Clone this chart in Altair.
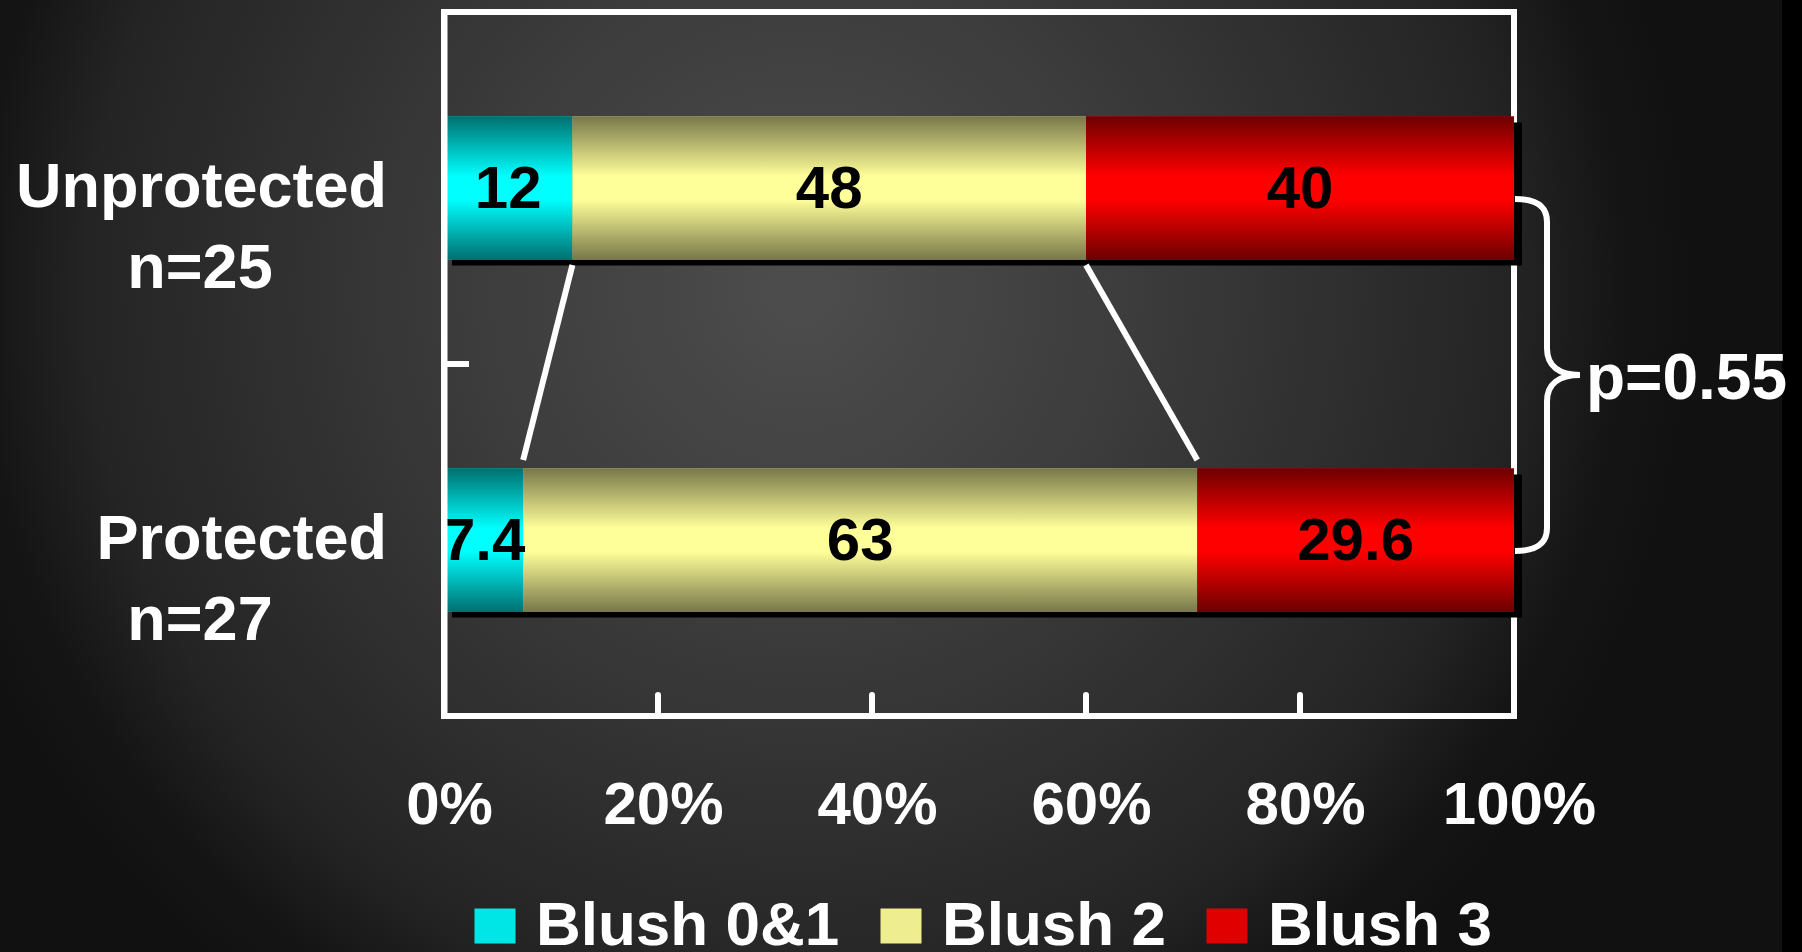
import altair as alt
import pandas as pd

# ---------------- data ----------------
groups = ["Unprotected", "Protected"]
group_n = ["n=25", "n=27"]
blush_levels = ["Blush 0&1", "Blush 2", "Blush 3"]
unprotected_pct = [12, 48, 40]
protected_pct = [7.4, 63, 29.6]
x_ticks = [0, 20, 40, 60, 80, 100]
p_label = "p=0.55"

# ---------------- style ----------------
FONT = "Liberation Sans"
W, H = 1070, 704
BAR = 143
level_colors = ["#00e6e6", "#eeee90", "#e00000"]

def vgrad(dark, bright):
    return alt.LinearGradient(
        gradient="linear", x1=0, y1=0, x2=0, y2=1,
        stops=[alt.GradientStop(color=dark, offset=0),
               alt.GradientStop(color=bright, offset=0.42),
               alt.GradientStop(color=bright, offset=0.58),
               alt.GradientStop(color=dark, offset=1)])

level_grads = [vgrad("#007070", "#00ffff"),
               vgrad("#78784a", "#ffff99"),
               vgrad("#6e0000", "#ff0000")]

# ---------------- tables ----------------
rows = []
for g, vals in zip(groups, [unprotected_pct, protected_pct]):
    start = 0.0
    for lvl, v in zip(blush_levels, vals):
        rows.append({"group": g, "level": lvl, "pct": v, "x0": start,
                     "x1": start + v, "mid": start + v / 2, "label": f"{v:g}"})
        start += v
df = pd.DataFrame(rows)

grp_df = pd.DataFrame({"group": groups, "n": group_n, "x0": 0, "x1": 100})

cum_u = df[df.group == groups[0]].x1.tolist()
cum_p = df[df.group == groups[1]].x1.tolist()
conn_df = pd.DataFrame({"from": groups[0], "to": groups[1],
                        "xa": cum_u[:2], "xb": cum_p[:2]})
tick_df = pd.DataFrame({"v": x_ticks[1:-1]})
one = pd.DataFrame({"x": [100], "t": [p_label], "group": [groups[0]]})

yscale = alt.Scale(domain=groups, paddingInner=0, paddingOuter=0)

# ---------------- layers ----------------
bg = alt.Chart(one).mark_rect(
    fill=alt.RadialGradient(
        gradient="radial", x1=0.449, y1=0.396, r1=0, x2=0.449, y2=0.396, r2=0.5,
        stops=[alt.GradientStop(color="#4d4d4d", offset=0),
               alt.GradientStop(color="#3c3c3c", offset=0.37),
               alt.GradientStop(color="#242424", offset=0.8),
               alt.GradientStop(color="#151515", offset=0.92),
               alt.GradientStop(color="#111111", offset=1)])
).encode(x=alt.value(-444), x2=alt.value(1338), y=alt.value(-236), y2=alt.value(1164))

frame = alt.Chart(one).mark_rect(
    fillOpacity=0, stroke="white", strokeWidth=6
).encode(x=alt.value(0), x2=alt.value(W), y=alt.value(0), y2=alt.value(H))

shadow = alt.Chart(grp_df).mark_bar(
    size=BAR, color="black", xOffset=8, x2Offset=8, yOffset=6
).encode(
    x=alt.X("x0:Q", scale=alt.Scale(domain=[0, 100], nice=False),
            axis=alt.Axis(values=x_ticks, labelExpr="datum.value + '%'",
                          ticks=False, tickSize=0, domain=False, grid=False,
                          labelPadding=107, labelBaseline="alphabetic",
                          labelFont=FONT, labelFontSize=60, labelFontWeight="bold",
                          labelColor="white", labelOffset=5, labelFlush=False,
                          labelOverlap=False, title=None, zindex=2)),
    x2="x1:Q",
    y=alt.Y("group:N", scale=yscale, sort=groups,
            axis=alt.Axis(labels=False, ticks=False, title=None, grid=False,
                          domain=True, domainColor="white", domainWidth=6, zindex=1)),
)

solid = alt.Chart(df).mark_bar(size=BAR).encode(
    x="x0:Q", x2="x1:Q", y=alt.Y("group:N", sort=groups),
    color=alt.Color("level:N", sort=blush_levels,
                    scale=alt.Scale(domain=blush_levels, range=level_colors),
                    legend=alt.Legend(
                        orient="none", legendX=20, legendY=883, direction="horizontal",
                        columns=3, title=None,
                        symbolType="M -1 -0.85 H 1 V 0.85 H -1 Z", symbolSize=1681,
                        symbolStrokeWidth=0, symbolOpacity=1,
                        labelFont=FONT, labelFontSize=62, labelFontWeight="bold",
                        labelColor="white", labelOffset=10, columnPadding=30,
                        labelLimit=0)),
)

grad_layers = [
    alt.Chart(df).transform_filter(alt.datum.level == lvl)
    .mark_bar(size=BAR, fill=gr)
    .encode(x="x0:Q", x2="x1:Q", y=alt.Y("group:N", sort=groups))
    for lvl, gr in zip(blush_levels, level_grads)
]

connectors = alt.Chart(conn_df).mark_rule(
    color="white", strokeWidth=6, yOffset=77, y2Offset=-80
).encode(x="xa:Q", x2="xb:Q", y=alt.Y("from:N"), y2="to:N")

bar_text = alt.Chart(df).mark_text(
    font=FONT, fontSize=60, fontWeight="bold", color="black",
    baseline="alphabetic", dy=20
).encode(x="mid:Q", y=alt.Y("group:N", sort=groups), text="label:N")

grp_text = alt.Chart(grp_df).mark_text(
    font=FONT, fontSize=63, fontWeight="bold", color="white",
    align="right", baseline="alphabetic", dy=19
).encode(x=alt.value(-57), y=alt.Y("group:N", sort=groups), text="group:N")

n_text = alt.Chart(grp_df).mark_text(
    font=FONT, fontSize=63, fontWeight="bold", color="white",
    align="center", baseline="alphabetic", dy=100
).encode(x=alt.value(-244), y=alt.Y("group:N", sort=groups), text="n:N")

mid_tick = alt.Chart(grp_df.iloc[:1]).mark_rule(
    color="white", strokeWidth=6
).encode(y=alt.Y("group:N", bandPosition=1), x=alt.value(0), x2=alt.value(25))

x_tick_marks = alt.Chart(tick_df).mark_rule(
    color="white", strokeWidth=6, strokeCap="round"
).encode(x="v:Q", y=alt.value(H - 21), y2=alt.value(H))

BRACE = ("M -0.182 -1 C -0.06 -1 0 -0.96 0 -0.87 L 0 -0.15 "
         "C 0 -0.05 0.07 0 0.1875 0 C 0.07 0 0 0.05 0 0.15 "
         "L 0 0.87 C 0 0.96 -0.06 1 -0.182 1")
brace = alt.Chart(one).mark_point(
    shape=BRACE, size=352 * 352, filled=False, stroke="white",
    strokeWidth=6, opacity=1, xOffset=33
).encode(x="x:Q", y=alt.value(363))

p_text = alt.Chart(one).mark_text(
    font=FONT, fontSize=64, fontWeight="bold", color="white",
    align="left", baseline="alphabetic", dx=72
).encode(x="x:Q", y=alt.value(387), text="t:N")

chart = alt.layer(
    bg, frame, shadow, solid, *grad_layers, connectors, bar_text,
    grp_text, n_text, mid_tick, x_tick_marks, brace, p_text
).properties(
    width=W, height=H,
    padding={"left": 444, "top": 12, "right": 288, "bottom": 236},
    autosize=alt.AutoSizeParams(type="none"),
).configure(background="black").configure_view(stroke="transparent")

chart.save("out.html", embed_options={"renderer": "svg", "actions": False})
